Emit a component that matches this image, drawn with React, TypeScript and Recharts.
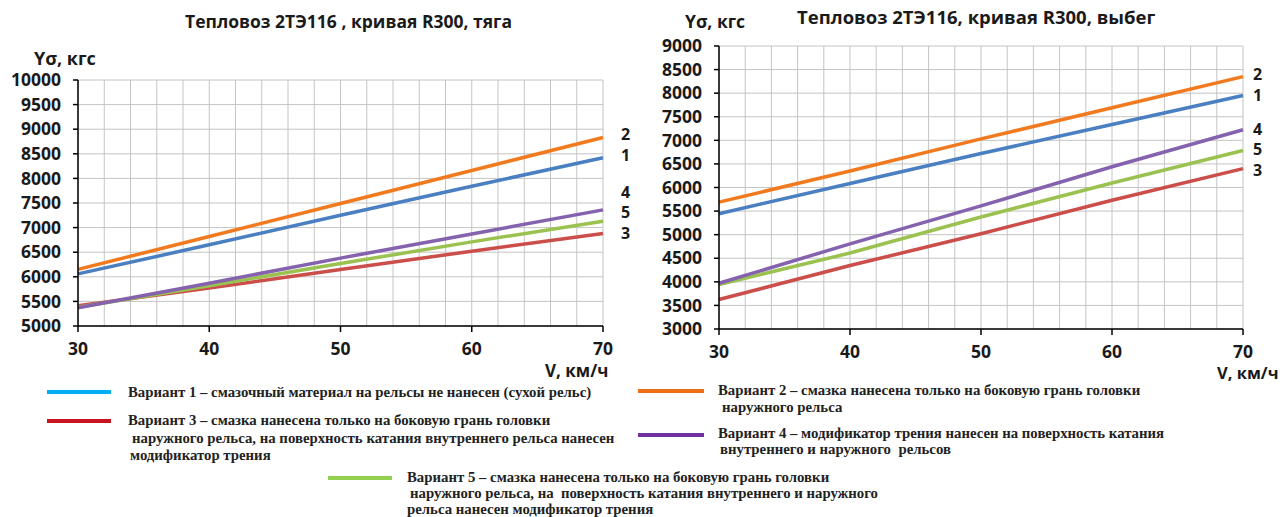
import React from 'react';
import { LineChart, Line, XAxis, YAxis, CartesianGrid } from 'recharts';

// speeds, km/h
const speeds = [30, 40, 50, 60, 70];
const gridSpeeds = [30, 32, 34, 36, 38, 40, 42, 44, 46, 48, 50, 52, 54, 56, 58, 60, 62, 64, 66, 68, 70];

// Yσ, kgf — traction (тяга)
const tractionV1 = [6060, 6650, 7250, 7840, 8420];
const tractionV2 = [6150, 6820, 7490, 8160, 8830];
const tractionV3 = [5410, 5770, 6150, 6520, 6880];
const tractionV4 = [5370, 5870, 6380, 6870, 7360];
const tractionV5 = [5380, 5820, 6270, 6710, 7130];
const tractionTicks = [5000, 5500, 6000, 6500, 7000, 7500, 8000, 8500, 9000, 9500, 10000];

// Yσ, kgf — coasting (выбег)
const coastV1 = [5445, 6085, 6720, 7335, 7950];
const coastV2 = [5690, 6350, 7030, 7690, 8350];
const coastV3 = [3625, 4345, 5020, 5730, 6400];
const coastV4 = [3970, 4805, 5610, 6440, 7225];
const coastV5 = [3945, 4610, 5375, 6095, 6785];
const coastTicks = [3000, 3500, 4000, 4500, 5000, 5500, 6000, 6500, 7000, 7500, 8000, 8500, 9000];

const seriesColors = {
    v1: '#4A7FC1',
    v2: '#F27A1E',
    v3: '#CC4E4A',
    v4: '#8462AE',
    v5: '#9BC250',
};

const legendColors = {
    v1: '#00B0F0',
    v2: '#EE6E14',
    v3: '#C8141E',
    v4: '#7030A0',
    v5: '#92D050',
};

const FONT = '"Open Sans", sans-serif';
const SERIF = '"Liberation Serif", "Times New Roman", serif';
const TICK_SIZE = 17.5;

const buildRows = (a: number[], b: number[], c: number[], d: number[], e: number[]) =>
    speeds.map((v, i) => ({ v, v1: a[i], v2: b[i], v3: c[i], v4: d[i], v5: e[i] }));

const tractionData = buildRows(tractionV1, tractionV2, tractionV3, tractionV4, tractionV5);
const coastData = buildRows(coastV1, coastV2, coastV3, coastV4, coastV5);

// only every 10 km/h gets a mark and a label, the rest are just gridlines
const XTick = (props: any) => {
    const { x, y, payload } = props;
    if (payload.value % 10 !== 0) return <g />;
    return (
        <g>
            <line x1={x} x2={x} y1={y} y2={y + 6} stroke="#000" strokeWidth={1.5} />
            <text
                x={x}
                y={y + 22}
                textAnchor="middle"
                dominantBaseline="central"
                fill="#1a1a1a"
                fontFamily={FONT}
                fontWeight="bold"
                fontSize={TICK_SIZE}
            >
                {payload.value}
            </text>
        </g>
    );
};

interface PanelProps {
    data: any[];
    width: number;
    height: number;
    margin: { top: number; right: number; bottom: number; left: number };
    yDomain: [number, number];
    yTicks: number[];
}

function Panel({ data, width, height, margin, yDomain, yTicks }: PanelProps) {
    return (
        <LineChart width={width} height={height} data={data} margin={margin}>
            <CartesianGrid stroke="#c4c4c4" strokeWidth={1} />
            <XAxis
                dataKey="v"
                type="number"
                domain={[30, 70]}
                ticks={gridSpeeds}
                interval={0}
                height={30}
                tickSize={0}
                tickMargin={0}
                tickLine={false}
                axisLine={{ stroke: '#000', strokeWidth: 1.5 }}
                tick={<XTick />}
            />
            <YAxis
                type="number"
                domain={yDomain}
                ticks={yTicks}
                interval={0}
                width={78}
                tickSize={5}
                tickMargin={12}
                axisLine={{ stroke: '#000', strokeWidth: 1.5 }}
                tickLine={{ stroke: '#000', strokeWidth: 1.5 }}
                tick={{ fill: '#1a1a1a', fontFamily: FONT, fontWeight: 'bold', fontSize: TICK_SIZE }}
            />
            <Line type="linear" dataKey="v2" stroke={seriesColors.v2} strokeWidth={3.5} dot={false} isAnimationActive={false} />
            <Line type="linear" dataKey="v1" stroke={seriesColors.v1} strokeWidth={3.5} dot={false} isAnimationActive={false} />
            <Line type="linear" dataKey="v3" stroke={seriesColors.v3} strokeWidth={3.5} dot={false} isAnimationActive={false} />
            <Line type="linear" dataKey="v5" stroke={seriesColors.v5} strokeWidth={3.5} dot={false} isAnimationActive={false} />
            <Line type="linear" dataKey="v4" stroke={seriesColors.v4} strokeWidth={3.5} dot={false} isAnimationActive={false} />
        </LineChart>
    );
}

const Label = ({ x, y, size = 16, children }: { x: number; y: number; size?: number; children: React.ReactNode }) => (
    <div
        style={{
            position: 'absolute',
            left: x,
            top: y - size / 2,
            fontFamily: FONT,
            fontWeight: 'bold',
            fontSize: size,
            lineHeight: `${size}px`,
            color: '#1a1a1a',
            whiteSpace: 'pre',
        }}
    >
        {children}
    </div>
);

const LegendLine = ({ x, y, w, color }: { x: number; y: number; w: number; color: string }) => (
    <div style={{ position: 'absolute', left: x, top: y - 2, width: w, height: 4, background: color }} />
);

const LegendText = ({ x, y, children }: { x: number; y: number; children: React.ReactNode }) => (
    <div
        style={{
            position: 'absolute',
            left: x,
            top: y - 8,
            fontFamily: SERIF,
            fontWeight: 'bold',
            fontSize: 14.8,
            lineHeight: '16px',
            color: '#222',
            whiteSpace: 'pre',
        }}
    >
        {children}
    </div>
);

export default function App() {
    return (
        <div
            style={{
                position: 'absolute',
                left: 0,
                top: 0,
                width: 1285,
                height: 517,
                overflow: 'hidden',
                background: '#fff',
            }}
        >
            <div style={{ position: 'absolute', left: 0, top: 0 }}>
                <Panel
                    data={tractionData}
                    width={640}
                    height={370}
                    margin={{ top: 80, right: 37, bottom: 14, left: 0 }}
                    yDomain={[5000, 10000]}
                    yTicks={tractionTicks}
                />
            </div>
            <div style={{ position: 'absolute', left: 640, top: 0 }}>
                <Panel
                    data={coastData}
                    width={645}
                    height={370}
                    margin={{ top: 46, right: 42, bottom: 11, left: 1 }}
                    yDomain={[3000, 9000]}
                    yTicks={coastTicks}
                />
            </div>

            {/* left panel texts */}
            <Label x={185} y={22} size={17.5}>Тепловоз 2ТЭ116 , кривая R300, тяга</Label>
            <Label x={34} y={58} size={18}>Yσ, кгс</Label>
            <Label x={545} y={370} size={17}>V, км/ч</Label>
            <Label x={621} y={134}>2</Label>
            <Label x={621} y={155}>1</Label>
            <Label x={621} y={192}>4</Label>
            <Label x={621} y={212}>5</Label>
            <Label x={621} y={233}>3</Label>

            {/* right panel texts */}
            <Label x={797} y={17} size={18.5}>Тепловоз 2ТЭ116, кривая R300, выбег</Label>
            <Label x={685} y={22} size={17.5}>Yσ, кгс</Label>
            <Label x={1217} y={373} size={16.5}>V, км/ч</Label>
            <Label x={1253} y={74}>2</Label>
            <Label x={1253} y={95}>1</Label>
            <Label x={1253} y={129}>4</Label>
            <Label x={1253} y={149}>5</Label>
            <Label x={1253} y={170}>3</Label>

            {/* legend */}
            <LegendLine x={47} y={392} w={64} color={legendColors.v1} />
            <LegendText x={128} y={392}>Вариант 1 – смазочный материал на рельсы не нанесен (сухой рельс)</LegendText>

            <LegendLine x={47} y={421} w={64} color={legendColors.v3} />
            <LegendText x={128} y={420}>Вариант 3 – смазка нанесена только на боковую грань головки</LegendText>
            <LegendText x={132} y={438}>наружного рельса, на поверхность катания внутреннего рельса нанесен</LegendText>
            <LegendText x={130} y={455}>модификатор трения</LegendText>

            <LegendLine x={638} y={391} w={66} color={legendColors.v2} />
            <LegendText x={718} y={390}>Вариант 2 – смазка нанесена только на боковую грань головки</LegendText>
            <LegendText x={722} y={407}>наружного рельса</LegendText>

            <LegendLine x={638} y={435} w={66} color={legendColors.v4} />
            <LegendText x={718} y={433}>Вариант 4 – модификатор трения нанесен на поверхность катания</LegendText>
            <LegendText x={720} y={449}>внутреннего и наружного  рельсов</LegendText>

            <LegendLine x={328} y={478} w={64} color={legendColors.v5} />
            <LegendText x={407} y={477}>Вариант 5 – смазка нанесена только на боковую грань головки</LegendText>
            <LegendText x={410} y={493}>наружного рельса, на  поверхность катания внутреннего и наружного</LegendText>
            <LegendText x={407} y={509}>рельса нанесен модификатор трения</LegendText>
        </div>
    );
}
